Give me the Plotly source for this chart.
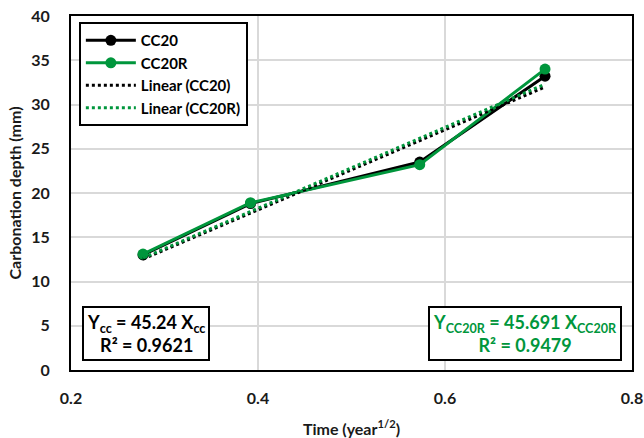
import plotly.graph_objects as go

# Time axis (square root of exposure years) and measured carbonation depth (mm)
time_sqrt = [0.277, 0.392, 0.573, 0.707]
depth_cc20 = [13.0, 18.8, 23.5, 33.2]
depth_cc20r = [13.1, 18.9, 23.2, 34.0]

# Trend lines forced through the origin
slope_cc20 = 45.24
slope_cc20r = 45.691
r2_cc20 = 0.9621
r2_cc20r = 0.9479

x_ticks = [0.2, 0.4, 0.6, 0.8]
y_ticks = [0, 5, 10, 15, 20, 25, 30, 35, 40]

BLACK = "#000000"
GREEN = "#00963C"
FONT = "Lato"

trend_x = [time_sqrt[0], time_sqrt[-1]]

fig = go.Figure()
fig.add_trace(go.Scatter(
    x=time_sqrt, y=depth_cc20, name="CC20", mode="lines+markers",
    line=dict(color=BLACK, width=3), marker=dict(color=BLACK, size=11)))
fig.add_trace(go.Scatter(
    x=time_sqrt, y=depth_cc20r, name="CC20R", mode="lines+markers",
    line=dict(color=GREEN, width=3), marker=dict(color=GREEN, size=11)))
fig.add_trace(go.Scatter(
    x=trend_x, y=[slope_cc20 * v for v in trend_x], name="Linear (CC20)",
    mode="lines", line=dict(color=BLACK, width=3, dash="dot")))
fig.add_trace(go.Scatter(
    x=trend_x, y=[slope_cc20r * v for v in trend_x], name="Linear (CC20R)",
    mode="lines", line=dict(color=GREEN, width=3, dash="dot")))

axis_common = dict(
    showgrid=True, gridcolor="#D9D9D9", gridwidth=2,
    showline=True, linecolor=BLACK, linewidth=2, mirror=True,
    zeroline=False, ticks="", automargin=False,
    tickfont=dict(family=FONT, size=16, color="#1A1A1A", weight="bold"),
)

fig.update_xaxes(
    range=[0.2, 0.8], tickvals=x_ticks, ticktext=[f"{v:.1f}" for v in x_ticks],
    ticklabelstandoff=13,
    title=dict(text="Time (year<sup>1/2</sup>)", standoff=18,
               font=dict(family=FONT, size=16, color="#1A1A1A", weight="bold")),
    **axis_common)
fig.update_yaxes(
    range=[0, 40], tickvals=y_ticks, ticklabelstandoff=16,
    title=dict(text="Carbonation depth (mm)", standoff=6,
               font=dict(family=FONT, size=16, color="#1A1A1A", weight="bold")),
    **axis_common)

fig.add_annotation(
    xref="paper", yref="paper", x=0.02, y=0.025, xanchor="left", yanchor="bottom",
    text=f"Y<sub>cc</sub> = {slope_cc20} X<sub>cc</sub><br>R² = {r2_cc20}",
    showarrow=False, align="center",
    font=dict(family=FONT, size=18, color=BLACK, weight="bold"),
    bordercolor=BLACK, borderwidth=2, borderpad=3, bgcolor="white")
fig.add_annotation(
    xref="paper", yref="paper", x=0.982, y=0.025, xanchor="right", yanchor="bottom",
    text=f"Y<sub>CC20R</sub> = {slope_cc20r} X<sub>CC20R</sub><br>R² = {r2_cc20r}",
    showarrow=False, align="center",
    font=dict(family=FONT, size=18, color=GREEN, weight="bold"),
    bordercolor=BLACK, borderwidth=2, borderpad=3, bgcolor="white")

fig.update_layout(
    width=644, height=438,
    margin=dict(l=71, r=12, t=16, b=68, autoexpand=False),
    paper_bgcolor="white", plot_bgcolor="white",
    showlegend=True,
    legend=dict(
        x=0.014, y=0.983, xanchor="left", yanchor="top",
        bgcolor="white", bordercolor=BLACK, borderwidth=2,
        font=dict(family=FONT, size=15, color=BLACK, weight="bold"),
        itemwidth=50, tracegroupgap=0),
)

fig.write_html("out.html")
